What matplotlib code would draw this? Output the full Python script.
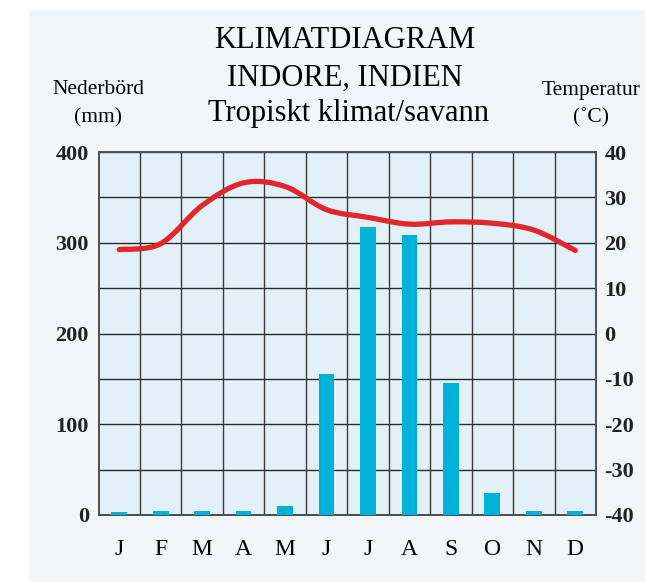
import numpy as np
import matplotlib
matplotlib.use("Agg")
import matplotlib.pyplot as plt
from matplotlib.patches import Rectangle, PathPatch
from matplotlib.path import Path

months = ["J", "F", "M", "A", "M", "J", "J", "A", "S", "O", "N", "D"]
precip_mm = [3, 4, 4, 4, 10, 155, 317, 309, 145, 24, 4, 4]
temp_c = [18.5, 19.8, 28.2, 33.2, 32.4, 27.3, 25.6, 24.1, 24.6, 24.3, 22.8, 18.3]
left_ticks = [0, 100, 200, 300, 400]
right_ticks = [-40, -30, -20, -10, 0, 10, 20, 30, 40]

serif = "Liberation Serif"
panel_col = "#f1f6f9"
plot_bg = "#e2f1f7"
bar_col = "#00b1d9"
line_col = "#e3262b"


def smooth_path(xs, ys):
    # Catmull-Rom through the points, drawn as cubic Bezier segments
    pts = np.column_stack([xs, ys]).astype(float)
    p = np.vstack([pts[0], pts, pts[-1]])
    verts = [pts[0]]
    codes = [Path.MOVETO]
    for i in range(1, len(p) - 2):
        c1 = p[i] + (p[i + 1] - p[i - 1]) / 6
        c2 = p[i + 1] - (p[i + 2] - p[i]) / 6
        verts += [c1, c2, p[i + 1]]
        codes += [Path.CURVE4] * 3
    return Path(verts, codes)


fig = plt.figure(figsize=(6.45, 5.82), dpi=100)
fig.patches.append(Rectangle((29 / 645, 0), 1, 1 - 10 / 582, transform=fig.transFigure,
                             facecolor=panel_col, edgecolor="none", zorder=-10))

ax = fig.add_axes([98.5 / 645, 1 - 515 / 582, (596 - 98.5) / 645, (515 - 152) / 582])
ax.set_facecolor(plot_bg)
x = np.arange(len(months))
ax.bar(x, precip_mm, width=0.38, color=bar_col, zorder=3)
ax.set_xlim(-0.5, 11.5)
ax.set_ylim(0, 400)

# grid: vertical at month borders, horizontal every 50 mm
ax.set_xticks(x)
ax.set_xticks(np.arange(0.5, 11.5, 1), minor=True)
ax.set_yticks(left_ticks)
ax.set_yticks(np.arange(50, 400, 50), minor=True)
ax.grid(True, which="minor", axis="x", color="#3a3a3a", lw=1.0, zorder=1)
ax.grid(True, which="both", axis="y", color="#2a2a2a", lw=1.0, zorder=1)
ax.set_axisbelow(True)
ax.tick_params(which="both", length=0)
ax.tick_params(axis="x", pad=17)
ax.tick_params(axis="y", pad=7)
ax.set_xticklabels(months, fontfamily=serif, fontsize=17)
ax.set_yticklabels([str(v) for v in left_ticks], fontfamily=serif, fontsize=16,
                   fontweight="bold", color="#222222")
for s in ax.spines.values():
    s.set_color("#4a4f52")
    s.set_linewidth(1.4)

ax2 = ax.twinx()
ax2.set_ylim(-40, 40)
ax2.set_yticks(right_ticks)
ax2.set_yticklabels([str(v) for v in right_ticks], fontfamily=serif, fontsize=16,
                    fontweight="bold", color="#222222")
ax2.tick_params(axis="y", length=0, pad=6)
ax2.add_patch(PathPatch(smooth_path(x, temp_c), facecolor="none", edgecolor=line_col,
                        lw=3.8, capstyle="round", joinstyle="round", zorder=5))
for s in ax2.spines.values():
    s.set_visible(False)

fig.text(345 / 645, 1 - 41 / 582, "KLIMATDIAGRAM", ha="center", va="center",
         fontfamily=serif, fontsize=22)
fig.text(345 / 645, 1 - 78 / 582, "INDORE, INDIEN", ha="center", va="center",
         fontfamily=serif, fontsize=22)
fig.text(348 / 645, 1 - 114 / 582, "Tropiskt klimat/savann", ha="center", va="center",
         fontfamily=serif, fontsize=22)
fig.text(98 / 645, 1 - 90 / 582, "Nederbörd", ha="center", va="center",
         fontfamily=serif, fontsize=15.5)
fig.text(98 / 645, 1 - 118 / 582, "(mm)", ha="center", va="center",
         fontfamily=serif, fontsize=15.5)
fig.text(591 / 645, 1 - 90 / 582, "Temperatur", ha="center", va="center",
         fontfamily=serif, fontsize=15.5)
fig.text(591 / 645, 1 - 118 / 582, "(˚C)", ha="center", va="center",
         fontfamily=serif, fontsize=15.5)

fig.savefig("out.png", dpi=100)
